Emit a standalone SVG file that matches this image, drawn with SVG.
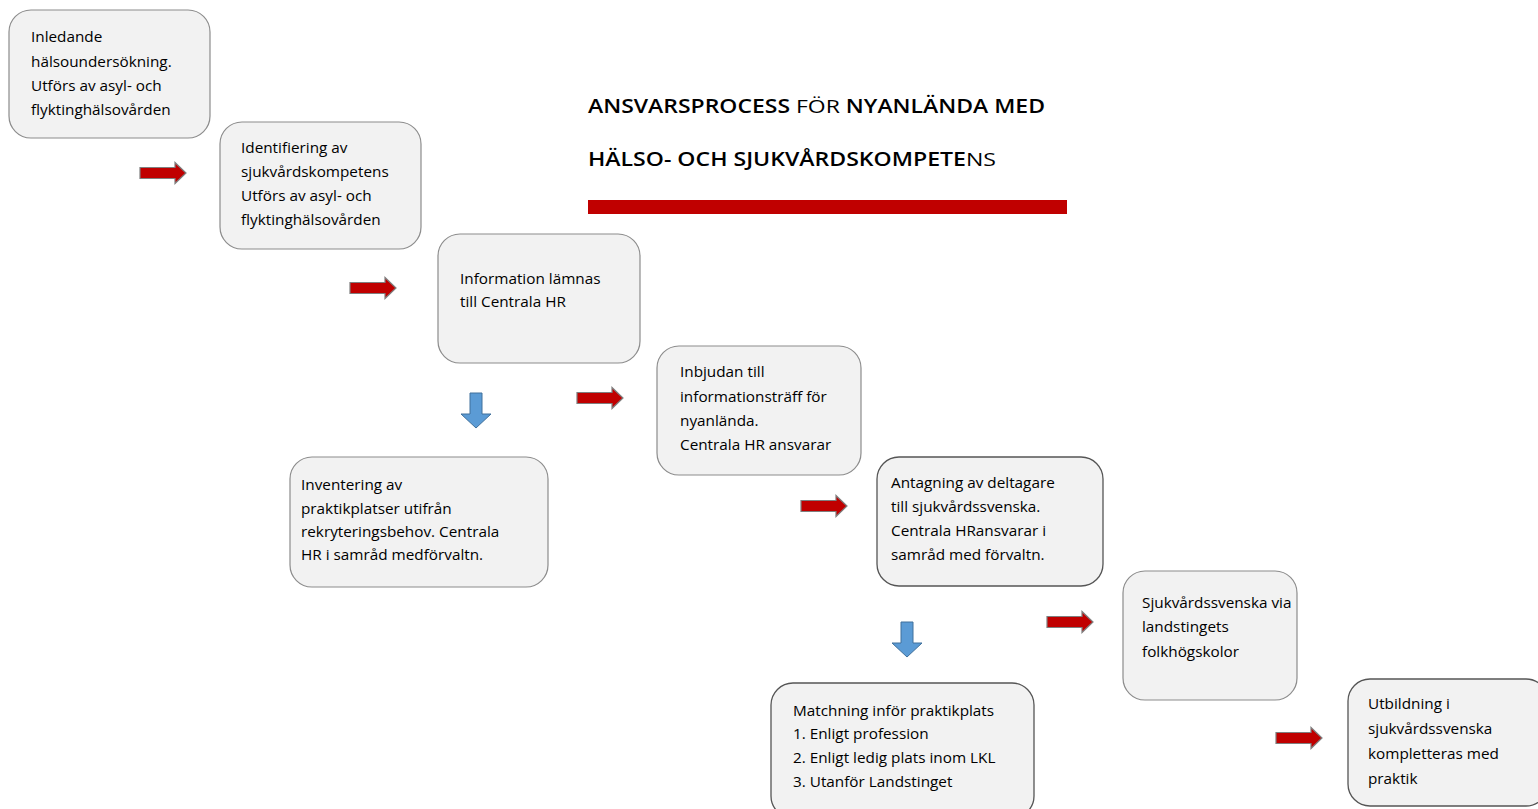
<svg xmlns="http://www.w3.org/2000/svg" width="1538" height="809" viewBox="0 0 1538 809">
<defs>
<style>
.box{fill:#f2f2f2;stroke:#8c8c8c;stroke-width:1.2}
.box2{fill:#f2f2f2;stroke:#555;stroke-width:1.3}
.t{font-family:"Open Sans","Noto Sans","Liberation Sans",sans-serif;font-size:15.3px;fill:#000}
.ttl{font-family:"Open Sans","Noto Sans","Liberation Sans",sans-serif;font-size:19px;fill:#000;font-weight:600}
.red{fill:#c00000;stroke:#7f7f7f;stroke-width:1.2}
.blue{fill:#5b9bd5;stroke:#41719c;stroke-width:1}
</style>
<path id="ra" d="M0,-5.5 H35 V-10.5 L46,0 L35,10.5 V5.5 H0 Z"/>
<path id="ba" d="M-6,0 H6 V21 H15 L0,35 L-15,21 H-6 Z"/>
</defs>
<rect width="1538" height="809" fill="#fff"/>

<g id="title">
<text class="ttl" x="588" y="113" textLength="457" lengthAdjust="spacingAndGlyphs">ANSVARSPROCESS <tspan font-weight="400">FÖR</tspan> NYANLÄNDA MED</text>
<text class="ttl" x="588" y="166" textLength="408" lengthAdjust="spacingAndGlyphs">HÄLSO- OCH SJUKVÅRDSKOMPETE<tspan font-weight="400">NS</tspan></text>
<rect x="588" y="200" width="479" height="14" fill="#c00000"/>
</g>

<g id="n1">
<rect class="box" x="9" y="10" width="201" height="128" rx="22"/>
<text class="t" x="31"><tspan x="31" y="42">Inledande</tspan><tspan x="31" y="67">hälsoundersökning.</tspan><tspan x="31" y="91">Utförs av asyl- och</tspan><tspan x="31" y="115">flyktinghälsovården</tspan></text>
</g>
<g id="n2">
<rect class="box" x="220" y="122" width="201" height="127" rx="22"/>
<text class="t"><tspan x="241" y="153">Identifiering av</tspan><tspan x="241" y="177">sjukvårdskompetens</tspan><tspan x="241" y="201">Utförs av asyl- och</tspan><tspan x="241" y="225">flyktinghälsovården</tspan></text>
</g>
<g id="n3">
<rect class="box" x="438" y="234" width="202" height="129" rx="22"/>
<text class="t"><tspan x="460" y="284">Information lämnas</tspan><tspan x="460" y="307">till Centrala HR</tspan></text>
</g>
<g id="n4">
<rect class="box" x="290" y="457" width="258" height="130" rx="22"/>
<text class="t"><tspan x="301" y="490">Inventering av</tspan><tspan x="301" y="514">praktikplatser utifrån</tspan><tspan x="301" y="537">rekryteringsbehov. Centrala</tspan><tspan x="301" y="560">HR i samråd medförvaltn.</tspan></text>
</g>
<g id="n5">
<rect class="box" x="657" y="346" width="204" height="129" rx="22"/>
<text class="t"><tspan x="680" y="377">Inbjudan till</tspan><tspan x="680" y="402">informationsträff för</tspan><tspan x="680" y="426">nyanlända.</tspan><tspan x="680" y="450">Centrala HR ansvarar</tspan></text>
</g>
<g id="n6">
<rect class="box2" x="877" y="457" width="226" height="129" rx="22"/>
<text class="t"><tspan x="891" y="488">Antagning av deltagare</tspan><tspan x="891" y="512">till sjukvårdssvenska.</tspan><tspan x="891" y="536">Centrala HRansvarar i</tspan><tspan x="891" y="560">samråd med förvaltn.</tspan></text>
</g>
<g id="n7">
<rect class="box" x="1123" y="571" width="174" height="129" rx="22"/>
<text class="t"><tspan x="1142" y="608">Sjukvårdssvenska via</tspan><tspan x="1142" y="632">landstingets</tspan><tspan x="1142" y="657">folkhögskolor</tspan></text>
</g>
<g id="n8">
<rect class="box2" x="771" y="683" width="263" height="135" rx="22"/>
<text class="t"><tspan x="793" y="716">Matchning inför praktikplats</tspan><tspan x="793" y="739">1. Enligt profession</tspan><tspan x="793" y="763">2. Enligt ledig plats inom LKL</tspan><tspan x="793" y="787">3. Utanför Landstinget</tspan></text>
</g>
<g id="n9">
<rect class="box2" x="1348" y="679" width="200" height="127" rx="22"/>
<text class="t"><tspan x="1368" y="709">Utbildning i</tspan><tspan x="1368" y="734">sjukvårdssvenska</tspan><tspan x="1368" y="759">kompletteras med</tspan><tspan x="1368" y="784">praktik</tspan></text>
</g>

<g id="connectors">
<use href="#ra" class="red" x="140" y="173"/>
<use href="#ra" class="red" x="350" y="288"/>
<use href="#ra" class="red" x="577" y="398"/>
<use href="#ra" class="red" x="801" y="506"/>
<use href="#ra" class="red" x="1047" y="622"/>
<use href="#ra" class="red" x="1276" y="738"/>
<use href="#ba" class="blue" x="476" y="393"/>
<use href="#ba" class="blue" x="907" y="622"/>
</g>
</svg>
